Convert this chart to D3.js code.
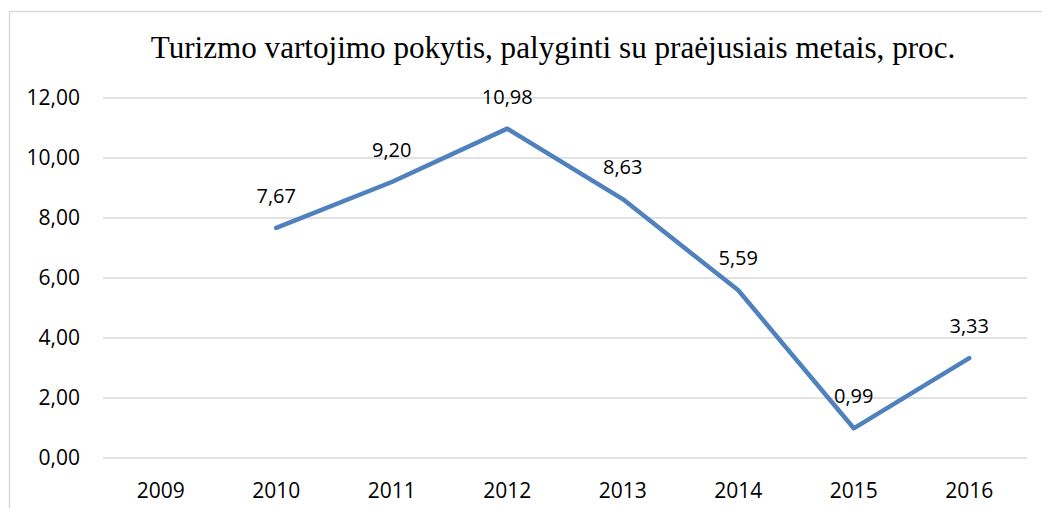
<!DOCTYPE html>
<html>
<head>
<meta charset="utf-8">
<script src="https://cdn.jsdelivr.net/npm/d3@7"></script>
<style>
  body { margin: 0; background: #fff; }
  .axis text { font-family: 'Open Sans', 'Liberation Sans', sans-serif; font-size: 21px; fill: #000; }
  .lbl { font-family: 'Open Sans', 'Liberation Sans', sans-serif; font-size: 20px; fill: #000; }
</style>
</head>
<body>
<div id="canvas"></div>
<script>
var years = ['2009', '2010', '2011', '2012', '2013', '2014', '2015', '2016'];
var values = [null, 7.67, 9.20, 10.98, 8.63, 5.59, 0.99, 3.33];
var yTicks = [0, 2, 4, 6, 8, 10, 12];
var title = 'Turizmo vartojimo pokytis, palyginti su praėjusiais metais, proc.';

var W = 1042, H = 508;
var m = {t: 98, l: 103};
var plotRight = 1027,
    h = 458 - m.t;

var svg = d3.select('#canvas')
  .append('svg')
  .attr('width', W)
  .attr('height', H);

// chart border (only top + left show inside the window)
svg.append('path')
  .attr('d', 'M9.5,' + H + 'V11.5H' + W)
  .attr('fill', 'none')
  .attr('stroke', '#d9d9d9')
  .attr('stroke-width', 1.5);

var titleText = svg.append('text')
  .attr('x', 553)
  .attr('y', 58)
  .attr('text-anchor', 'middle')
  .style('font-family', "'Liberation Serif', 'DejaVu Serif', serif")
  .style('font-size', '24px')
  .text(title);
// fit the title to the width used in the original
var tw = titleText.node().getComputedTextLength();
titleText.style('font-size', (24 * 805 / tw) + 'px');

var plot = svg.append('g')
  .attr('transform', 'translate(' + m.l + ',' + m.t + ')');

var x = d3.scaleBand().domain(years).range([0, plotRight - m.l]);
var y = d3.scaleLinear().domain([0, 12]).range([h, 0]);

// gridlines
plot.selectAll('.grid')
  .data(yTicks)
  .enter().append('line')
  .attr('class', 'grid')
  .attr('x1', 0)
  .attr('x2', x.range()[1])
  .attr('y1', function(d) { return y(d); })
  .attr('y2', function(d) { return y(d); })
  .attr('stroke', '#d9d9d9')
  .attr('stroke-width', 1.5);

var fmt = function(d) { return d3.format('.2f')(d).replace('.', ','); };

var axisY = d3.axisLeft(y).tickValues(yTicks).tickSize(0).tickPadding(23).tickFormat(fmt);
plot.append('g').attr('class', 'axis').call(axisY)
  .call(function(g) { g.select('.domain').remove(); });

var axisX = d3.axisBottom(x).tickSize(0).tickPadding(25);
plot.append('g').attr('class', 'axis')
  .attr('transform', 'translate(0,' + h + ')')
  .call(axisX)
  .call(function(g) { g.select('.domain').remove(); });

var pts = years.map(function(d, i) { return {year: d, v: values[i]}; })
  .filter(function(d) { return d.v != null; });

var line = d3.line()
  .x(function(d) { return x(d.year) + x.bandwidth() / 2; })
  .y(function(d) { return y(d.v); });

plot.append('path')
  .datum(pts)
  .attr('d', line)
  .attr('fill', 'none')
  .attr('stroke', '#4f81bd')
  .attr('stroke-width', 4.5)
  .attr('stroke-linecap', 'round')
  .attr('stroke-linejoin', 'round');

plot.selectAll('.lbl')
  .data(pts)
  .enter().append('text')
  .attr('class', 'lbl')
  .attr('x', function(d) { return x(d.year) + x.bandwidth() / 2; })
  .attr('y', function(d) { return y(d.v) - 25; })
  .attr('text-anchor', 'middle')
  .text(function(d) { return fmt(d.v); });
</script>
</body>
</html>
